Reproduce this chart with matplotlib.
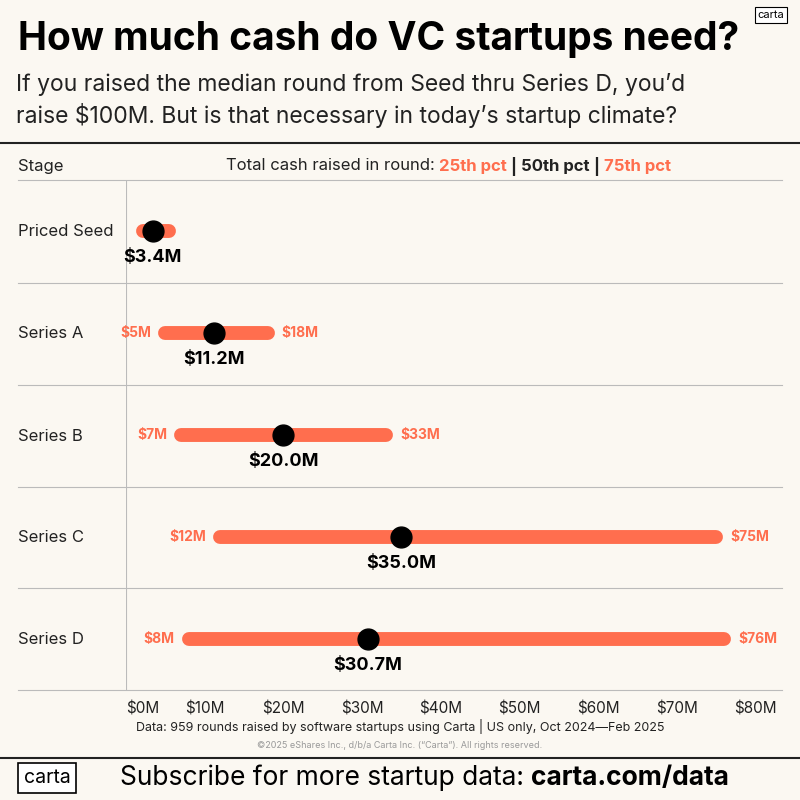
import matplotlib
matplotlib.use("Agg")
import matplotlib.pyplot as plt
from matplotlib.lines import Line2D

stages = ["Priced Seed", "Series A", "Series B", "Series C", "Series D"]
p25 = [2.2, 5, 7, 12, 8]
p50 = [3.4, 11.2, 20.0, 35.0, 30.7]
p75 = [5.5, 18, 33, 75, 76]
low_labels = ["", "$5M", "$7M", "$12M", "$8M"]
high_labels = ["", "$18M", "$33M", "$75M", "$76M"]
ticks = [0, 10, 20, 30, 40, 50, 60, 70, 80]
tick_labels = ["$0M", "$10M", "$20M", "$30M", "$40M", "$50M", "$60M", "$70M", "$80M"]

BG = "#fbf8f2"
OR = "#ff6e4e"
plt.rcParams['font.family'] = ['Inter', 'DejaVu Sans']

fig = plt.figure(figsize=(8, 8), dpi=100, facecolor=BG)
W = H = 800.0
def fx(x): return x / W
def fy(y): return 1 - y / H

fig.text(fx(18), fy(40), "How much cash do VC startups need?", fontsize=28, fontweight='bold', va='center', ha='left')
fig.text(fx(16), fy(100), "If you raised the median round from Seed thru Series D, you\u2019d\nraise $100M. But is that necessary in today\u2019s startup climate?",
         fontsize=16.5, va='center', ha='left', linespacing=1.35, color='#222')
fig.text(fx(771), fy(15), "carta", fontsize=8, ha='center', va='center',
         bbox=dict(boxstyle='square,pad=0.25', fc='white', ec='black', lw=0.8))

fig.add_artist(Line2D([0, 1], [fy(143), fy(143)], color='#222', lw=1.5))
fig.text(fx(18), fy(166), "Stage", fontsize=12, va='center', ha='left', color='#222')
x0 = 226
parts = [("Total cash raised in round: ", '#222', 'normal'), ("25th pct", OR, 'bold'), (" | ", '#222', 'bold'),
         ("50th pct", '#222', 'bold'), (" | ", '#222', 'bold'), ("75th pct", OR, 'bold')]
fig.canvas.draw()
r = fig.canvas.get_renderer()
cur = fx(x0)
for s, c, w in parts:
    t = fig.text(cur, fy(166), s, fontsize=12, va='center', ha='left', color=c, fontweight=w)
    bb = t.get_window_extent(renderer=r)
    cur += bb.width / (W)
for yy in [180, 283, 385, 487, 588, 690]:
    fig.add_artist(Line2D([fx(18), fx(782)], [fy(yy), fy(yy)], color='#bbb', lw=0.8))

ax = fig.add_axes([fx(126), fy(690), fx(780 - 126), (690 - 180) / H])
ax.set_facecolor('none')
for s in ax.spines.values():
    s.set_visible(False)
ax.axvline(0, color='#bbb', lw=0.8)
ax.set_xlim(0, (780 - 126) / 7.87)
ax.set_ylim(5, 0)
ax.set_yticks([])
ax.set_xticks(ticks)
ax.set_xticklabels(tick_labels, fontsize=11, color='#222')
ax.tick_params(axis='x', length=0, pad=8)
ax.get_xticklabels()[0].set_ha('left')
for i, st in enumerate(stages):
    y = 0.5 + i
    ax.plot([p25[i], p75[i]], [y, y], color=OR, lw=10, solid_capstyle='round', zorder=2)
    ax.plot([p50[i]], [y], 'o', color='black', ms=15, zorder=3)
    ax.text(p50[i], y + 0.26, f"${p50[i]:.1f}M", fontsize=13, fontweight='bold', ha='center', va='center')
    if low_labels[i]:
        ax.text(p25[i] - 1.8, y, low_labels[i], color=OR, fontsize=10, fontweight='bold', ha='right', va='center')
        ax.text(p75[i] + 1.8, y, high_labels[i], color=OR, fontsize=10, fontweight='bold', ha='left', va='center')
    fig.text(fx(18), fy(180 + 102 * i + 52), st, fontsize=12, va='center', ha='left', color='#222')

fig.text(0.5, fy(726), "Data: 959 rounds raised by software startups using Carta | US only, Oct 2024\u2014Feb 2025",
         fontsize=9, ha='center', va='center', color='#222')
fig.text(0.5, fy(745), "\u00a92025 eShares Inc., d/b/a Carta Inc. (\u201cCarta\u201d). All rights reserved.",
         fontsize=6.5, ha='center', va='center', color='#999')
fig.add_artist(Line2D([0, 1], [fy(758), fy(758)], color='#222', lw=1.5))
fig.text(fx(47), fy(778), "carta", fontsize=14, ha='center', va='center',
         bbox=dict(boxstyle='square,pad=0.3', fc='white', ec='black', lw=1.2))
t = fig.text(fx(120), fy(778), "Subscribe for more startup data: ", fontsize=19, ha='left', va='center')
bb = t.get_window_extent(renderer=r)
fig.text(fx(120) + bb.width / W, fy(778), "carta.com/data", fontsize=19, fontweight='bold', ha='left', va='center')

fig.savefig("out.png", dpi=100, facecolor=BG)
